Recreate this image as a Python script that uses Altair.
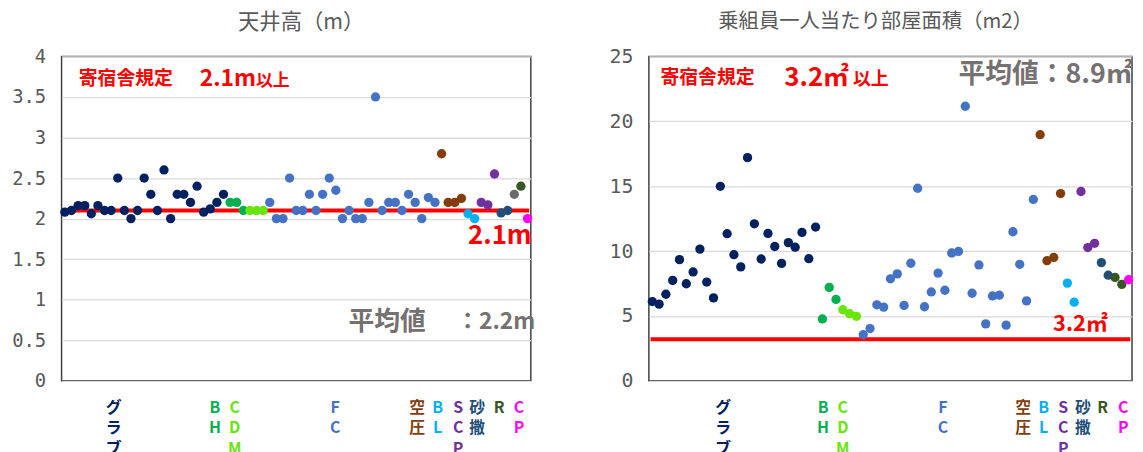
import altair as alt
import pandas as pd

JP = "Noto Sans CJK JP"
MONO = "DejaVu Sans Mono"

# ---------------- data ----------------
groups = ["グラブ", "BH", "CDM", "FC", "空圧", "BL", "SCP", "砂撒", "R", "CP"]
group_sizes = [25, 3, 3, 26, 4, 2, 3, 2, 2, 1]
group_colors = ["#002060", "#00B050", "#66E60A", "#4472C4", "#843C0C",
                "#00B0F0", "#7030A0", "#1F4E79", "#375623", "#FF00FF"]
group_labels = ["グ\nラ\nブ", "B\nH", "C\nD\nM", "F\nC", "空\n圧",
                "B\nL", "S\nC\nP", "砂\n撒", "R", "C\nP"]

# label centres (category index) under each panel
left_label_pos = [8.4, 23.7, 26.7, 41.9, 54.3, 57.4, 60.5, 63.4, 66.7, 69.7]
right_label_pos = [11.4, 26.1, 29.0, 43.7, 55.5, 58.5, 61.4, 64.3, 67.2, 70.2]

# ceiling height (m)
height_vals = [
    2.08, 2.10, 2.16, 2.16, 2.06, 2.16, 2.10, 2.10, 2.50, 2.10,
    2.00, 2.10, 2.50, 2.30, 2.10, 2.60, 2.00, 2.30, 2.30, 2.20,
    2.40, 2.08, 2.12, 2.20, 2.30,
    2.20, 2.20, 2.10,
    2.10, 2.10, 2.10,
    2.20, 2.00, 2.00, 2.50, 2.10, 2.10, 2.30, 2.10, 2.30, 2.50,
    2.35, 2.00, 2.10, 2.00, 2.00, 2.20, 3.50, 2.10, 2.20, 2.20,
    2.10, 2.30, 2.20, 2.00, 2.26, 2.20,
    2.80, 2.20, 2.20, 2.25,
    2.06, 2.00,
    2.20, 2.17, 2.55,
    2.07, 2.10,
    2.30, 2.40,
    2.00,
]

# room area per crew member (m2)
area_vals = [
    6.11, 5.91, 6.67, 7.74, 9.34, 7.48, 8.39, 10.15, 7.61, 6.39,
    14.99, 11.34, 9.72, 8.78, 17.20, 12.10, 9.39, 11.36, 10.35, 9.05,
    10.65, 10.30, 11.44, 9.41, 11.85,
    4.77, 7.20, 6.27,
    5.48, 5.17, 4.97,
    3.55, 4.03, 5.86, 5.68, 7.86, 8.24, 5.81, 9.06, 14.84, 5.71,
    6.85, 8.30, 6.98, 9.85, 9.97, 21.16, 6.75, 8.93, 4.39, 6.54,
    6.60, 4.29, 11.49, 8.98, 6.16, 13.98,
    18.97, 9.26, 9.51, 14.43,
    7.53, 6.06,
    14.59, 10.27, 10.60,
    9.11, 8.14,
    7.97, 7.43,
    7.79,
]

left_ticks = [0, 0.5, 1, 1.5, 2, 2.5, 3, 3.5, 4]
right_ticks = [0, 5, 10, 15, 20, 25]

group_keys = [g for g, n in zip(groups, group_sizes) for _ in range(n)]
left_keys = list(group_keys)
left_keys[68] = "R_gray"   # the first R point is grey in the ceiling panel

color_domain = groups + ["R_gray"]
color_range = group_colors + ["#6B6B6B"]

W1, W2, H = 473, 487, 327


def panel(values, keys, label_pos, ymax, ticks, title, title_size, title_dx,
          threshold, width, extent, lab_size, notes):
    n = len(values)
    xs = alt.Scale(domain=[0.5, n + 0.5], nice=False, zero=False)
    ys = alt.Scale(domain=[0, ymax], nice=False, zero=True)
    cs = alt.Scale(domain=color_domain, range=color_range)
    yaxis = alt.Axis(values=ticks, format="~g", domain=False, ticks=False,
                     labelPadding=16, labelFontSize=lab_size, labelColor="#595959",
                     labelFont=MONO, grid=True, gridColor="#D9D9D9",
                     gridWidth=1.3, minExtent=extent, maxExtent=extent)

    def yenc():
        return alt.Y("val:Q", scale=ys, title=None, axis=yaxis)

    def xenc():
        return alt.X("idx:Q", scale=xs, axis=None)

    df = pd.DataFrame({"idx": list(range(1, n + 1)), "val": values, "grp": keys})

    rule = alt.Chart(pd.DataFrame({"idx": [0.75], "idx2": [n + 0.25], "val": [threshold]})).mark_rule(
        color="#FF0000", strokeWidth=4
    ).encode(x=xenc(), x2="idx2:Q", y=yenc())

    pts = alt.Chart(df).mark_circle(size=88, opacity=1).encode(
        x=xenc(), y=yenc(),
        color=alt.Color("grp:N", scale=cs, legend=None),
    )

    lab_df = pd.DataFrame({"idx": label_pos, "t": group_labels, "grp": groups})
    labs = alt.Chart(lab_df).mark_text(
        align="center", baseline="top", fontSize=16, fontWeight="bold",
        lineBreak="\n", lineHeight=21, font=JP
    ).encode(
        x=xenc(),
        y=alt.value(H + 19),
        text="t:N",
        color=alt.Color("grp:N", scale=cs, legend=None),
    )

    layers = [rule, pts, labs]
    for text, x, y, size, color in notes:
        layers.append(
            alt.Chart(pd.DataFrame({"idx": [x], "val": [y]})).mark_text(
                text=text, align="left", baseline="middle", fontSize=size,
                fontWeight="bold", color=color, font=JP
            ).encode(x=xenc(), y=yenc())
        )

    return alt.layer(*layers).properties(
        width=width, height=H,
        title=alt.TitleParams(title, fontSize=title_size, color="#595959", font=JP,
                              fontWeight="normal", dx=title_dx, offset=14,
                              frame="group", anchor="middle"),
    )


left_notes = [
    ("寄宿舎規定", 3.1, 3.72, 19, "#FF0000"),
    ("2.1m", 21.4, 3.72, 23, "#FF0000"),
    ("以上", 29.9, 3.70, 17, "#FF0000"),
    ("2.1m", 62.0, 1.78, 26, "#FF0000"),
    ("平均値", 43.9, 0.72, 26, "#767171"),
    ("：2.2m", 60.2, 0.72, 23, "#767171"),
]
right_notes = [
    ("寄宿舎規定", 2.2, 23.3, 19, "#FF0000"),
    ("3.2㎡", 20.4, 23.3, 26, "#FF0000"),
    ("以上", 30.5, 23.2, 18, "#FF0000"),
    ("平均値：8.9㎡", 46.0, 23.6, 27, "#767171"),
    ("3.2㎡", 59.9, 4.36, 22, "#FF0000"),
]

left = panel(height_vals, left_keys, left_label_pos, 4, left_ticks,
             "天井高（m）", 21.5, 5, 2.1, W1, 53, 19, left_notes)
right = panel(area_vals, group_keys, right_label_pos, 25, right_ticks,
              "乗組員一人当たり部屋面積（m2）", 20.5, -15, 3.2, W2, 43, 20, right_notes)

chart = alt.hconcat(left, right, spacing=119, bounds="flush").properties(
    padding={"left": 0, "top": 1, "right": 0, "bottom": 0}
).configure_view(
    stroke="#404040", strokeWidth=1.5
)

chart.save("out.html", embed_options={"renderer": "svg", "actions": False})
